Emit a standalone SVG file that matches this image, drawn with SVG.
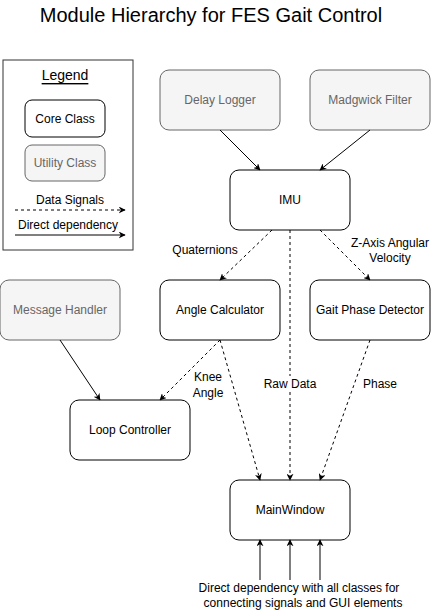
<svg xmlns="http://www.w3.org/2000/svg" width="441" height="611" viewBox="0 0 441 611">
<style>
text{font-family:"Liberation Sans",Arial,sans-serif;font-size:12px;fill:#000;text-anchor:middle;dominant-baseline:central}
.core{fill:#fff;stroke:#000;stroke-width:1}
.util{fill:#f5f5f5;stroke:#666;stroke-width:1}
.ut{fill:#666}
.solid{fill:none;stroke:#000;stroke-width:1}
.dash{fill:none;stroke:#000;stroke-width:1;stroke-dasharray:3 3}
</style>
<defs>
<marker id="ah" viewBox="0 0 10 10" refX="9" refY="5" markerWidth="7" markerHeight="7" markerUnits="userSpaceOnUse" orient="auto">
<path d="M0,0 L10,5 L0,10 L3,5 Z" fill="#000"/>
</marker>
</defs>
<rect width="441" height="611" fill="#fff"/>
<text x="211" y="15" style="font-size:20px">Module Hierarchy for FES Gait Control</text>
<g id="legend">
<rect x="3" y="60" width="130" height="190" fill="#fff" stroke="#333"/>
<text x="65" y="75" style="font-size:14px;text-decoration:underline">Legend</text>
<rect class="core" x="25" y="100" width="80" height="37" rx="7"/>
<text x="65" y="119">Core Class</text>
<rect class="util" x="25" y="145" width="80" height="36" rx="7"/>
<text class="ut" x="65" y="163">Utility Class</text>
<text x="70" y="200">Data Signals</text>
<line class="dash" x1="15" y1="210" x2="125" y2="210" marker-end="url(#ah)"/>
<text x="68" y="225">Direct dependency</text>
<line class="solid" x1="15" y1="235" x2="125" y2="235" marker-end="url(#ah)"/>
</g>
<g id="delay-logger"><rect class="util" x="160" y="70" width="120" height="60" rx="9"/><text class="ut" x="220" y="100">Delay Logger</text></g>
<g id="madgwick-filter"><rect class="util" x="310" y="70" width="120" height="60" rx="9"/><text class="ut" x="370" y="100">Madgwick Filter</text></g>
<g id="imu"><rect class="core" x="230" y="170" width="120" height="60" rx="9"/><text x="290" y="200">IMU</text></g>
<g id="message-handler"><rect class="util" x="0" y="280" width="120" height="60" rx="9"/><text class="ut" x="60" y="310">Message Handler</text></g>
<g id="angle-calculator"><rect class="core" x="160" y="280" width="120" height="60" rx="9"/><text x="220" y="310">Angle Calculator</text></g>
<g id="gait-phase-detector"><rect class="core" x="310" y="280" width="120" height="60" rx="9"/><text x="370" y="310">Gait Phase Detector</text></g>
<g id="loop-controller"><rect class="core" x="70" y="400" width="120" height="60" rx="9"/><text x="130" y="430">Loop Controller</text></g>
<g id="mainwindow"><rect class="core" x="230" y="480" width="120" height="60" rx="9"/><text x="290" y="510">MainWindow</text></g>
<g id="connectors">
<line class="solid" x1="220" y1="130" x2="260" y2="170" marker-end="url(#ah)"/>
<line class="solid" x1="370" y1="130" x2="320" y2="170" marker-end="url(#ah)"/>
<line class="dash" x1="272" y1="230" x2="220" y2="280" marker-end="url(#ah)"/>
<line class="dash" x1="320" y1="230" x2="370" y2="280" marker-end="url(#ah)"/>
<line class="dash" x1="290" y1="230" x2="290" y2="480" marker-end="url(#ah)"/>
<line class="solid" x1="60" y1="340" x2="100" y2="400" marker-end="url(#ah)"/>
<line class="dash" x1="220" y1="340" x2="160" y2="400" marker-end="url(#ah)"/>
<line class="dash" x1="220" y1="340" x2="260" y2="480" marker-end="url(#ah)"/>
<line class="dash" x1="370" y1="340" x2="320" y2="480" marker-end="url(#ah)"/>
<line class="solid" x1="260" y1="580" x2="260" y2="540" marker-end="url(#ah)"/>
<line class="solid" x1="290" y1="580" x2="290" y2="540" marker-end="url(#ah)"/>
<line class="solid" x1="320" y1="580" x2="320" y2="540" marker-end="url(#ah)"/>
<text x="205" y="250">Quaternions</text>
<text x="390" y="243">Z-Axis Angular</text>
<text x="390" y="258">Velocity</text>
<text x="208" y="377">Knee</text>
<text x="208" y="393">Angle</text>
<rect x="262" y="376" width="56" height="16" fill="#fff"/>
<text x="290" y="384">Raw Data</text>
<text x="380" y="384">Phase</text>
<text x="299" y="588">Direct dependency with all classes for</text>
<text x="303" y="603">connecting signals and GUI elements</text>
</g>
</svg>
